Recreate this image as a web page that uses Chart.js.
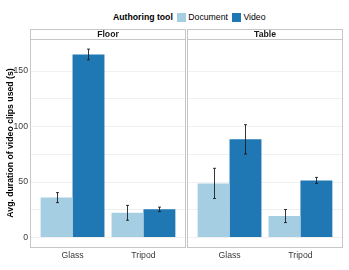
<!DOCTYPE html>
<html>
<head>
<meta charset="utf-8">
<script src="https://cdn.jsdelivr.net/npm/chart.js@4"></script>
<style>
    body { margin: 0; background: #fff; }
    #wrap { position: relative; width: 349px; height: 270px; font-family: 'Liberation Sans', Arial, sans-serif; }
    .panel { position: absolute; top: 0; height: 270px; }
    #legend { position: absolute; top: 12px; left: 113px; font-size: 8.7px; line-height: 11px; white-space: nowrap; color: #000; }
    #legend span { display: inline-block; vertical-align: middle; }
    #legend .key { width: 9.5px; height: 9.5px; margin: 0 2px 0 4px; }
</style>
</head>
<body>
<div id="wrap">
    <div id="legend"></div>
    <div class="panel" style="left:0; width:187px;"><canvas id="floorChart"></canvas></div>
    <div class="panel" style="left:187px; width:157px;"><canvas id="tableChart"></canvas></div>
</div>
<script>
// data
const panels = ['Floor', 'Table'];
const tools = ['Document', 'Video'];
const mounts = ['Glass', 'Tripod'];
const toolColors = ['#a6cee3', '#1f78b4'];

const floorDocument = [36, 22.3];
const floorDocumentErr = [4.5, 6.7];
const floorVideo = [165, 25.4];
const floorVideoErr = [4.8, 2];

const tableDocument = [48.8, 19.4];
const tableDocumentErr = [13.6, 5.9];
const tableVideo = [88.5, 51.5];
const tableVideoErr = [13.2, 2.7];

const yGrid = [0, 25, 50, 75, 100, 125, 150];
const yLabels = [0, 50, 100, 150];

const FONT = "'Liberation Sans', Arial, sans-serif";

// legend (html)
const legend = document.getElementById('legend');
legend.innerHTML = '<span style="font-weight:bold">Authoring tool</span>' +
    tools.map((t, i) => '<span class="key" style="background:' + toolColors[i] + '"></span><span>' + t + '</span>').join('');

// error bars + panel frame + strip
const facetPlugin = {
    id: 'facet',
    afterDatasetsDraw(chart, args, opts) {
        const ctx = chart.ctx;
        const y = chart.scales.y;
        ctx.save();
        ctx.strokeStyle = 'rgba(20,20,20,0.85)';
        ctx.lineWidth = 1;
        chart.data.datasets.forEach((ds, i) => {
            chart.getDatasetMeta(i).data.forEach((bar, j) => {
                const v = ds.data[j].y, e = ds.err[j];
                const x = Math.round(bar.x) + 0.5;
                const y1 = y.getPixelForValue(v + e), y2 = y.getPixelForValue(v - e);
                ctx.beginPath();
                ctx.moveTo(x, y1); ctx.lineTo(x, y2);
                ctx.moveTo(x - 1.5, y1); ctx.lineTo(x + 1.5, y1);
                ctx.moveTo(x - 1.5, y2); ctx.lineTo(x + 1.5, y2);
                ctx.stroke();
            });
        });
        ctx.restore();
    },
    afterDraw(chart, args, opts) {
        const ctx = chart.ctx;
        const a = chart.chartArea;
        ctx.save();
        ctx.strokeStyle = '#c6c6c6';
        ctx.lineWidth = 1;
        ctx.strokeRect(a.left + 0.5, a.top + 0.5, a.right - a.left - 1, a.bottom - a.top);
        // strip
        ctx.fillStyle = '#fff';
        ctx.fillRect(a.left + 0.5, a.top - 9.5, a.right - a.left - 1, 10);
        ctx.strokeRect(a.left + 0.5, a.top - 9.5, a.right - a.left - 1, 10);
        ctx.fillStyle = '#1a1a1a';
        ctx.font = 'bold 8.7px ' + FONT;
        ctx.textAlign = 'center';
        ctx.textBaseline = 'middle';
        ctx.fillText(opts.title, (a.left + a.right) / 2, a.top - 4.2);
        ctx.restore();
    }
};

function makePanel(id, title, docVals, docErr, vidVals, vidErr, showY) {
    const series = [[docVals, docErr], [vidVals, vidErr]];
    new Chart(document.getElementById(id), {
        type: 'bar',
        plugins: [facetPlugin],
        data: {
            datasets: series.map((s, i) => ({
                label: tools[i],
                data: mounts.map((m, j) => ({ x: j + 1, y: s[0][j] })),
                err: s[1],
                backgroundColor: toolColors[i],
                borderWidth: 0,
            }))
        },
        options: {
            responsive: true,
            maintainAspectRatio: false,
            animation: false,
            categoryPercentage: 0.9,  // ggplot dodge width
            barPercentage: 1,
            layout: { padding: { top: 39, right: 1, left: 0, bottom: 0 } },
            plugins: {
                legend: { display: false },
                tooltip: { enabled: false },
                facet: { title: title }
            },
            scales: {
                x: {
                    type: 'linear',
                    offset: false,
                    min: 0.4,
                    max: 2.6,
                    afterBuildTicks: (s) => { s.ticks = mounts.map((m, j) => ({ value: j + 1 })); },
                    afterFit: (s) => { s.height = 23; },
                    grid: { display: false, drawTicks: false },
                    border: { display: false },
                    ticks: {
                        padding: 3,
                        color: '#3a3a3a',
                        font: { family: FONT, size: 8.7 },
                        callback: (v) => mounts[v - 1]
                    }
                },
                y: {
                    min: -8.5,
                    max: 178.9,
                    afterBuildTicks: (s) => { s.ticks = yGrid.map(v => ({ value: v })); },
                    afterFit: (s) => { s.width = showY ? 30 : 0; },
                    grid: { color: '#f0f0f0', lineWidth: 1, drawTicks: false },
                    border: { display: false },
                    title: {
                        display: showY,
                        text: 'Avg. duration of video clips used (s)',
                        color: '#000',
                        padding: { top: 5, bottom: 0 },
                        font: { family: FONT, size: 8.7, weight: 'bold' }
                    },
                    ticks: {
                        display: showY,
                        padding: 2,
                        color: '#3a3a3a',
                        font: { family: FONT, size: 8.7 },
                        callback: (v) => yLabels.includes(v) ? v : ''
                    }
                }
            }
        }
    });
}

makePanel('floorChart', panels[0], floorDocument, floorDocumentErr, floorVideo, floorVideoErr, true);
makePanel('tableChart', panels[1], tableDocument, tableDocumentErr, tableVideo, tableVideoErr, false);
</script>
</body>
</html>
